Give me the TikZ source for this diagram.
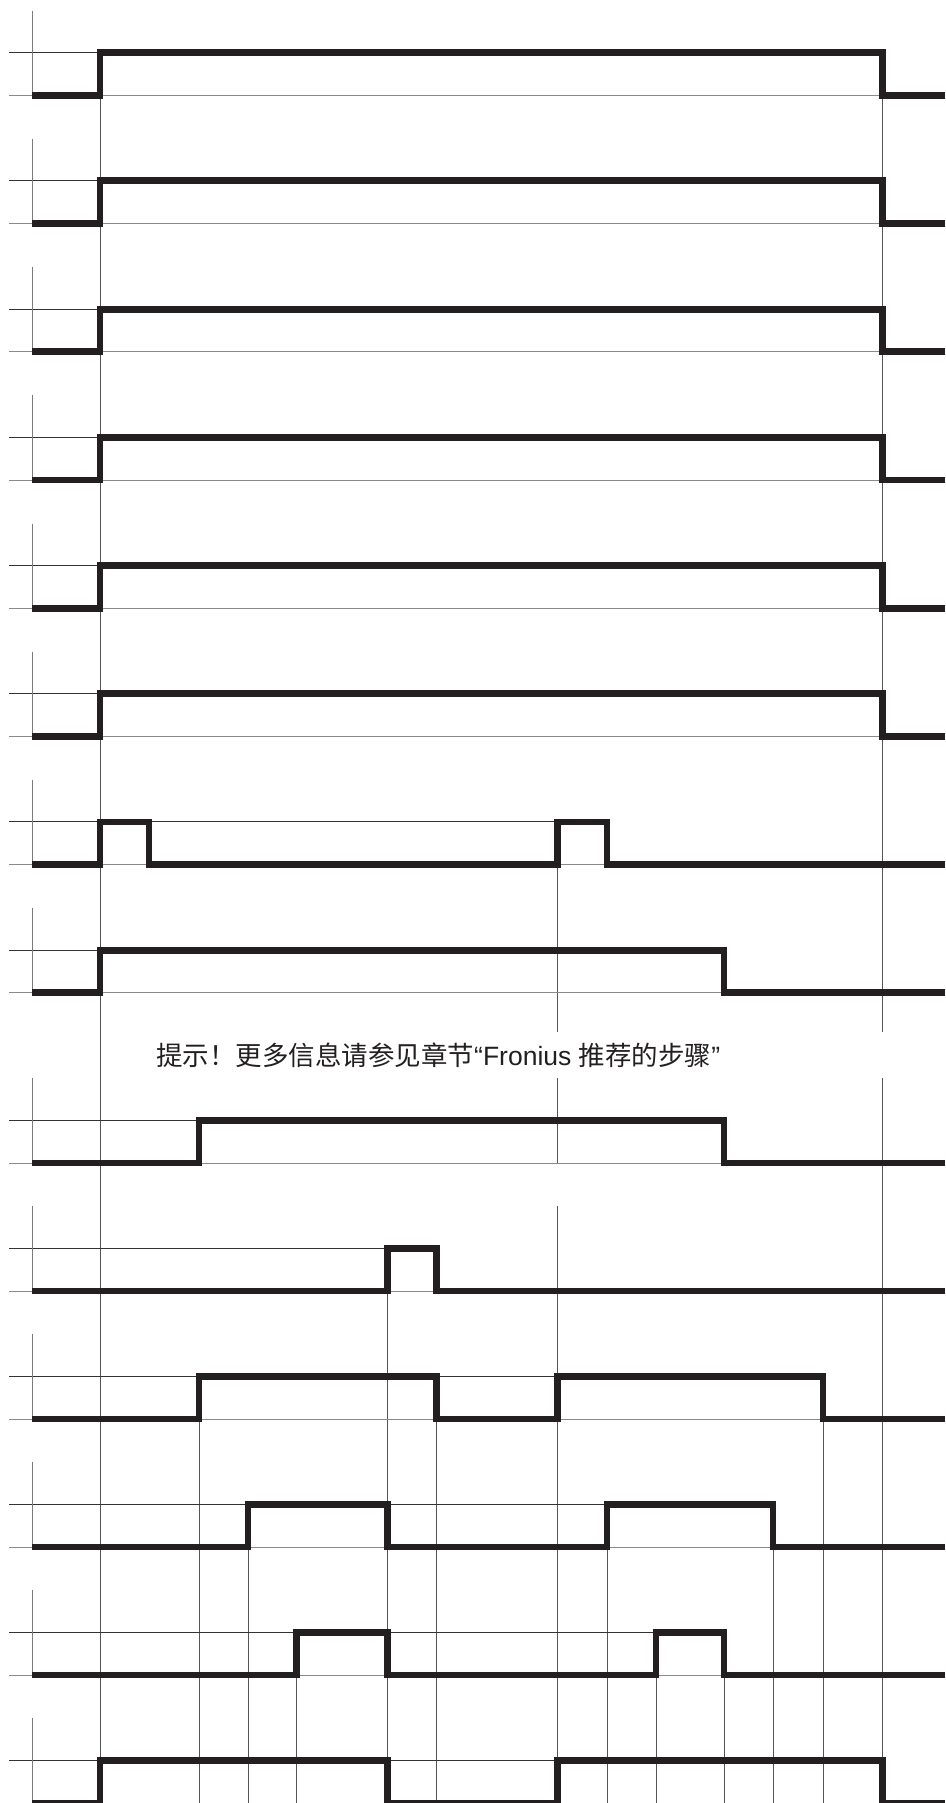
\documentclass[tikz,border=0pt]{standalone}
\usepackage{fontspec}
\setmainfont{Liberation Sans}
\newfontfamily\cjk{Noto Sans CJK SC}
\definecolor{sigc}{HTML}{231F20}
\definecolor{hic}{HTML}{333333}
\definecolor{loc}{HTML}{8A8A8A}
\definecolor{vc}{HTML}{555555}
\definecolor{axc}{HTML}{7A7A7A}
\begin{document}
\begin{tikzpicture}[x=1pt,y=-1pt,
  sig/.style={line width=6.8pt,draw=sigc,line join=miter,line cap=butt},
  hiline/.style={line width=0.9pt,draw=hic},
  loline/.style={line width=0.9pt,draw=loc},
  vline/.style={line width=0.9pt,draw=vc},
  axline/.style={line width=0.9pt,draw=axc},
  notetext/.style={inner sep=0pt,anchor=base west,text=sigc,font=\fontsize{26.5}{30}\selectfont}]
\useasboundingbox (0,0) rectangle (945,1803);
% long vertical guide lines
\draw[vline] (100,52.7) -- (100,1803);
\draw[vline] (882.3,52.7) -- (882.3,1032) (882.3,1078) -- (882.3,1803);
\draw[vline] (557.3,821.9) -- (557.3,1032) (557.3,1078) -- (557.3,1163) (557.3,1206) -- (557.3,1803);
\draw[vline] (387.6,1291) -- (387.6,1803);
\foreach \xx in {199,436.5,823} \draw[vline] (\xx,1419) -- (\xx,1803);
\foreach \xx in {248,607,773} \draw[vline] (\xx,1547) -- (\xx,1803);
\foreach \xx in {296.6,656,724} \draw[vline] (\xx,1675) -- (\xx,1803);
% reference lines and axes
\foreach \H/\E in {52.7/882.3,180.9/882.3,309.1/882.3,437.3/882.3,565.5/882.3,693.7/882.3,821.9/607,950.1/724,
                   1120.3/724,1248.3/436.5,1376.3/823,1504.3/773,1632.3/724,1760.3/882.3}{
  \draw[loline] (9,\H+42.7) -- (945,\H+42.7);
  \draw[hiline] (9,\H) -- (\E,\H);
  \draw[axline] (32,\H-42) -- (32,\H+42.7);
}
% signals
\foreach \H in {52.7,180.9,309.1,437.3,565.5,693.7}{
  \draw[sig] (32,\H+42.7) -- (100,\H+42.7) -- (100,\H) -- (882.3,\H) -- (882.3,\H+42.7) -- (945,\H+42.7);
}
\def\H{821.9}
\draw[sig] (32,\H+42.7) -- (100,\H+42.7) -- (100,\H) -- (149,\H) -- (149,\H+42.7) -- (557.3,\H+42.7) -- (557.3,\H) -- (607,\H) -- (607,\H+42.7) -- (945,\H+42.7);
\def\H{950.1}
\draw[sig] (32,\H+42.7) -- (100,\H+42.7) -- (100,\H) -- (724,\H) -- (724,\H+42.7) -- (945,\H+42.7);
\def\H{1120.3}
\draw[sig] (32,\H+42.7) -- (199,\H+42.7) -- (199,\H) -- (724,\H) -- (724,\H+42.7) -- (945,\H+42.7);
\def\H{1248.3}
\draw[sig] (32,\H+42.7) -- (387.6,\H+42.7) -- (387.6,\H) -- (436.5,\H) -- (436.5,\H+42.7) -- (945,\H+42.7);
\def\H{1376.3}
\draw[sig] (32,\H+42.7) -- (199,\H+42.7) -- (199,\H) -- (436.5,\H) -- (436.5,\H+42.7) -- (557.3,\H+42.7) -- (557.3,\H) -- (823,\H) -- (823,\H+42.7) -- (945,\H+42.7);
\def\H{1504.3}
\draw[sig] (32,\H+42.7) -- (248,\H+42.7) -- (248,\H) -- (387.6,\H) -- (387.6,\H+42.7) -- (607,\H+42.7) -- (607,\H) -- (773,\H) -- (773,\H+42.7) -- (945,\H+42.7);
\def\H{1632.3}
\draw[sig] (32,\H+42.7) -- (296.6,\H+42.7) -- (296.6,\H) -- (387.6,\H) -- (387.6,\H+42.7) -- (656,\H+42.7) -- (656,\H) -- (724,\H) -- (724,\H+42.7) -- (945,\H+42.7);
\def\H{1760.3}
\draw[sig] (32,\H+42.7) -- (100,\H+42.7) -- (100,\H) -- (387.6,\H) -- (387.6,\H+42.7) -- (557.3,\H+42.7) -- (557.3,\H) -- (882.3,\H) -- (882.3,\H+42.7) -- (945,\H+42.7);
% note
\node[notetext] (note) at (156,1065) {{\cjk 提示！更多信息请参见章节}“Fronius {\cjk 推荐的步骤}”};
\end{tikzpicture}
\end{document}
